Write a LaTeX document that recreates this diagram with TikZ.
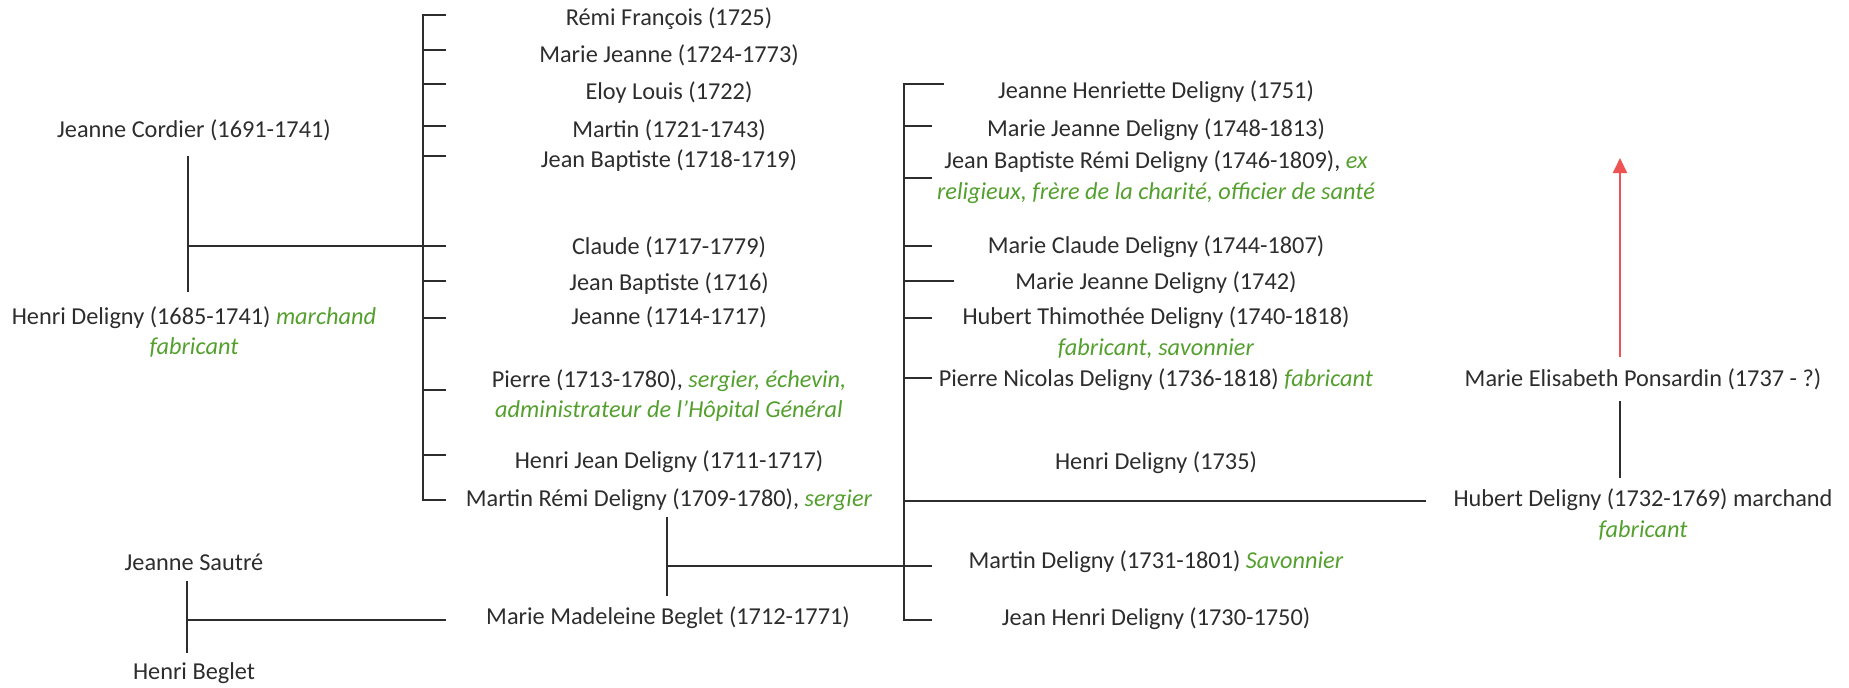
\documentclass[tikz,border=0pt]{standalone}
\usepackage{fontspec}
\setmainfont{Carlito}
\usepackage{xcolor}
\usetikzlibrary{arrows.meta}
\definecolor{jobgreen}{RGB}{84,160,46}
\definecolor{inkgray}{RGB}{45,45,45}
\definecolor{arrowred}{RGB}{238,82,82}
\newcommand{\job}[1]{\textcolor{jobgreen}{\textit{#1}}}

\begin{document}
\begin{tikzpicture}[x=0.5pt,y=-0.5pt,
    person/.style={inner sep=0pt,text=inkgray,align=center,font=\fontsize{12.15}{15.25}\selectfont},
    link/.style={line width=1pt,draw=inkgray}]
    \useasboundingbox (0,0) rectangle (1849,687);

    % Deligny - Cordier
    \node[person] (cordier) at (194,130) {Jeanne Cordier (1691-1741)};
    \node[person] (henri) at (194,332) {Henri Deligny (1685-1741) \job{marchand}\\\job{fabricant}};
    \coordinate (c1) at (188,156);
    \coordinate (c2) at (188,292);
    \coordinate (c12) at (188,246);
    \draw[link] (c1) -- (c2);

    % children of Henri
    \coordinate (brka) at (423,15);
    \foreach \y [count=\i] in {15,50,84,126,156,246,281,318,390,455,500}
        \coordinate (a\i) at (446,\y);
    \draw[link] (a1) -- (a1 -| brka) -- (a11 -| brka) -- (a11);
    \foreach \i in {2,...,10}
        \draw[link] (a\i) -- (a\i -| brka);
    \draw[link] (c12) -- (a6 -| brka);

    \foreach \y/\txt [count=\i] in {
        19/{Rémi François (1725)},
        55/{Marie Jeanne (1724-1773)},
        93/{Eloy Louis (1722)},
        130/{Martin (1721-1743)},
        161/{Jean Baptiste (1718-1719)},
        247/{Claude (1717-1779)},
        284/{Jean Baptiste (1716)},
        317/{Jeanne (1714-1717)},
        395.5/{Pierre (1713-1780), \job{sergier, échevin,}\\\job{administrateur de l’Hôpital Général}},
        462/{Henri Jean Deligny (1711-1717)},
        500/{Martin Rémi Deligny (1709-1780), \job{sergier}}}
        \node[person] (k\i) at (669,\y) {\txt};

    % Beglet - Sautré
    \node[person] (sautre) at (194,562) {Jeanne Sautré};
    \node[person] (beglet) at (194,673) {Henri Beglet};
    \coordinate (s1) at (187,581);
    \coordinate (s2) at (187,653);
    \coordinate (s12) at (187,620);
    \coordinate (s3) at (446,620);
    \draw[link] (s1) -- (s2);
    \draw[link] (s12) -- (s3);
    \node[person] (madeleine) at (668,618) {Marie Madeleine Beglet (1712-1771)};

    % Martin Rémi - Marie Madeleine
    \coordinate (m1) at (667,517);
    \coordinate (m2) at (667,596);
    \coordinate (m12) at (667,566);
    \draw[link] (m1) -- (m2);

    % their children
    \coordinate (brkb) at (904,84);
    \foreach \y/\x [count=\i] in {84/944,126/932,178/932,246/932,281/954,318/932,378/932,566/932,620/932}
        \coordinate (b\i) at (\x,\y);
    \draw[link] (b1) -- (b1 -| brkb) -- (b9 -| brkb) -- (b9);
    \foreach \i in {2,...,7}
        \draw[link] (b\i) -- (b\i -| brkb);
    \draw[link] (m12) -- (b8);

    \foreach \y/\txt [count=\i] in {
        92/{Jeanne Henriette Deligny (1751)},
        130/{Marie Jeanne Deligny (1748-1813)},
        177/{Jean Baptiste Rémi Deligny (1746-1809), \job{ex}\\\job{religieux, frère de la charité, officier de santé}},
        247/{Marie Claude Deligny (1744-1807)},
        283/{Marie Jeanne Deligny (1742)},
        332.5/{Hubert Thimothée Deligny (1740-1818)\\\job{fabricant, savonnier}},
        380/{Pierre Nicolas Deligny (1736-1818) \job{fabricant}},
        463/{Henri Deligny (1735)},
        562/{Martin Deligny (1731-1801) \job{Savonnier}},
        619/{Jean Henri Deligny (1730-1750)}}
        \node[person] (g\i) at (1156,\y) {\txt};

    % Hubert - Ponsardin
    \node[person] (hubert) at (1643,514.5) {Hubert Deligny (1732-1769) marchand\\\job{fabricant}};
    \node[person] (ponsardin) at (1643,379) {Marie Elisabeth Ponsardin (1737 - ?)};
    \coordinate (h0) at (904,501);
    \coordinate (h1) at (1426,501);
    \draw[link] (h0) -- (h1);
    \coordinate (p1) at (1620,401);
    \coordinate (p2) at (1620,478);
    \draw[link] (p1) -- (p2);
    \coordinate (r1) at (1620,357);
    \coordinate (r2) at (1620,158);
    \draw[line width=1pt,draw=arrowred,-{Triangle[length=7.5pt,width=7pt,fill=arrowred]}] (r1) -- (r2);
\end{tikzpicture}
\end{document}
